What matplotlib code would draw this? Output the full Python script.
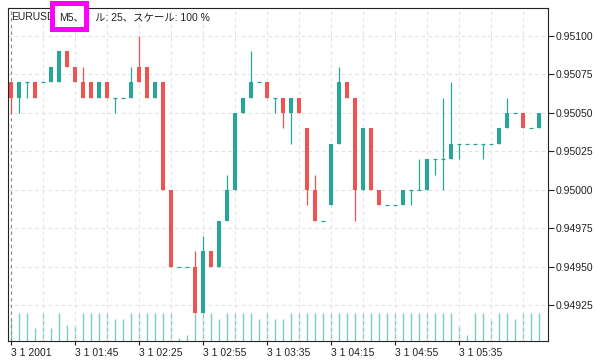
import matplotlib
matplotlib.use("Agg")
import matplotlib.pyplot as plt
from matplotlib.patches import Rectangle
from matplotlib.ticker import FixedLocator, MultipleLocator

plt.rcParams["font.family"] = ["Liberation Sans", "Noto Sans CJK JP"]

# M5 candles, prices
opens = [0.9507, 0.9506, 0.9507, 0.9507, 0.9507, 0.9507, 0.9507, 0.9509, 0.9508, 0.9507,
         0.9507, 0.9506, 0.9507, 0.9506, 0.9506, 0.9506, 0.9508, 0.9508, 0.9506, 0.9507,
         0.9500, 0.9495, 0.9495, 0.9495, 0.9492, 0.9496, 0.9495, 0.9498, 0.9500, 0.9505,
         0.9506, 0.9507, 0.9507, 0.9506, 0.9506, 0.9505, 0.9506, 0.9504, 0.9500, 0.9498,
         0.9499, 0.9503, 0.9507, 0.9506, 0.9500, 0.9504, 0.9500, 0.9499, 0.9499, 0.9499,
         0.9500, 0.9500, 0.9500, 0.9502, 0.9502, 0.9502, 0.9503, 0.9503, 0.9503, 0.9503,
         0.9503, 0.9503, 0.9504, 0.9505, 0.9505, 0.9504, 0.9504]
closes = [0.9506, 0.9507, 0.9507, 0.9506, 0.9507, 0.9508, 0.9509, 0.9508, 0.9507, 0.9506,
          0.9506, 0.9507, 0.9506, 0.9506, 0.9506, 0.9507, 0.9507, 0.9506, 0.9507, 0.9500,
          0.9495, 0.9495, 0.9495, 0.9492, 0.9496, 0.9495, 0.9498, 0.9500, 0.9505, 0.9506,
          0.9507, 0.9507, 0.9506, 0.9506, 0.9505, 0.9506, 0.9505, 0.9500, 0.9498, 0.9498,
          0.9503, 0.9507, 0.9506, 0.9500, 0.9504, 0.9500, 0.9499, 0.9499, 0.9499, 0.9500,
          0.9500, 0.9500, 0.9502, 0.9502, 0.9502, 0.9503, 0.9503, 0.9503, 0.9503, 0.9503,
          0.9503, 0.9504, 0.9505, 0.9505, 0.9504, 0.9504, 0.9505]
highs = [0.9507, 0.9507, 0.9507, 0.9507, 0.9507, 0.9508, 0.9509, 0.9509, 0.9508, 0.9508,
         0.9507, 0.9507, 0.9507, 0.9506, 0.9506, 0.9508, 0.9510, 0.9508, 0.9507, 0.9507,
         0.9500, 0.9495, 0.9495, 0.9496, 0.9497, 0.9496, 0.9498, 0.9501, 0.9505, 0.9506,
         0.9509, 0.9507, 0.9507, 0.9506, 0.9506, 0.9506, 0.9506, 0.9504, 0.9501, 0.9498,
         0.9503, 0.9508, 0.9507, 0.9506, 0.9504, 0.9504, 0.9500, 0.9499, 0.9499, 0.9500,
         0.9500, 0.9502, 0.9502, 0.9502, 0.9506, 0.9507, 0.9503, 0.9503, 0.9503, 0.9503,
         0.9503, 0.9504, 0.9506, 0.9505, 0.9505, 0.9504, 0.9505]
lows = [0.9505, 0.9505, 0.9506, 0.9506, 0.9507, 0.9507, 0.9507, 0.9508, 0.9507, 0.9506,
        0.9506, 0.9506, 0.9506, 0.9505, 0.9506, 0.9506, 0.9507, 0.9506, 0.9506, 0.9500,
        0.9495, 0.9495, 0.9495, 0.9492, 0.9492, 0.9495, 0.9495, 0.9498, 0.9500, 0.9505,
        0.9506, 0.9507, 0.9506, 0.9505, 0.9504, 0.9503, 0.9505, 0.9499, 0.9498, 0.9498,
        0.9499, 0.9503, 0.9506, 0.9498, 0.9500, 0.9500, 0.9499, 0.9499, 0.9499, 0.9499,
        0.9499, 0.9500, 0.9500, 0.9501, 0.9500, 0.9502, 0.9502, 0.9503, 0.9503, 0.9502,
        0.9503, 0.9503, 0.9504, 0.9505, 0.9504, 0.9504, 0.9504]
volumes = [7, 9, 9, 4, 9, 4, 9, 5, 5, 9, 9, 9, 9, 7, 7, 9, 9, 9, 9, 9,
           9, 1, 2, 9, 9, 9, 7, 9, 9, 9, 9, 7, 9, 7, 7, 9, 9, 9, 9, 9,
           9, 9, 9, 9, 9, 9, 9, 9, 9, 9, 9, 9, 9, 9, 9, 9, 5, 2, 9, 9,
           7, 9, 9, 7, 9, 9, 9]

tick_pos = [0, 8, 16, 24, 32, 40, 48, 56]
tick_labels = ["3 1 2001", "3 1 01:45", "3 1 02:25", "3 1 02:55",
               "3 1 03:35", "3 1 04:15", "3 1 04:55", "3 1 05:35"]
price_ticks = [0.94925, 0.94950, 0.94975, 0.95000, 0.95025, 0.95050, 0.95075, 0.95100]

UP, DOWN = "#26a69a", "#ef5350"
VOL = "#7fcdc2"
GRID = "#e2e2e2"

W, H = 595, 363
fig = plt.figure(figsize=(W / 100, H / 100), dpi=100)
ax = fig.add_axes([8 / W, 22 / H, 540 / W, 333 / H])
vax = ax.twinx()
vax.set_zorder(ax.get_zorder() - 1)
ax.patch.set_visible(False)

idx = list(range(len(opens)))

# volume
vax.vlines(idx, 0, volumes, color=VOL, lw=1.0)
vax.set_ylim(0, 9 * 333 / 28.5)
vax.set_yticks([])
for s in vax.spines.values():
    s.set_visible(False)

# candles
bw = 0.62
for i in idx:
    o, c, hi, lo = opens[i], closes[i], highs[i], lows[i]
    col = UP if c >= o else DOWN
    if hi > lo:
        ax.vlines(i, lo, hi, color=col, lw=0.9, zorder=3)
    if c == o:
        ax.hlines(o, i - bw / 2, i + bw / 2, color=col, lw=0.9, zorder=4)
    else:
        ax.bar(i, abs(c - o), bottom=min(o, c), width=bw, color=col,
               edgecolor="none", zorder=4)

ax.set_xlim(-0.375, 67.125)
ax.set_ylim(0.949018, 0.951182)

ax.yaxis.tick_right()
ax.set_yticks(price_ticks)
ax.set_yticklabels([f"{p:.5f}" for p in price_ticks])
ax.xaxis.set_major_locator(FixedLocator(tick_pos))
ax.set_xticklabels(tick_labels)
ax.xaxis.set_minor_locator(MultipleLocator(4))
ax.tick_params(axis="x", which="major", length=3, pad=2, labelsize=7.5,
               colors="#222", width=0.8)
ax.tick_params(axis="x", which="minor", length=0)
ax.tick_params(axis="y", length=4, pad=1.5, labelsize=7.5, colors="#222", width=0.8)
for lab in ax.get_xticklabels():
    lab.set_ha("left")

ax.grid(True, which="both", axis="x", color=GRID, ls=(0, (3, 3)), lw=0.8)
ax.grid(True, which="major", axis="y", color=GRID, ls=(0, (3, 3)), lw=0.8)
ax.set_axisbelow(True)
ax.axvline(0, color="#8a8a8a", ls=(0, (3, 3)), lw=0.8, zorder=1)

for s in ax.spines.values():
    s.set_color("#222")
    s.set_linewidth(0.8)

# header text with the highlighted timeframe box
fig.text(11 / W, 1 - 17 / H, "EURUSD", fontsize=7.5, va="center", color="#222")
fig.text(95 / W, 1 - 17 / H, "ル: 25、スケール: 100 %", fontsize=7.5,
         va="center", color="#222")
box = Rectangle((51.5 / W, 1 - 28.5 / H), 34 / W, 26 / H, transform=fig.transFigure,
                facecolor="white", edgecolor="#f0f", lw=3.6, zorder=10)
fig.add_artist(box)
fig.text(59 / W, 1 - 17 / H, "M5、", fontsize=7.5, va="center", color="#222", zorder=11)

fig.savefig("out.png", dpi=100)
